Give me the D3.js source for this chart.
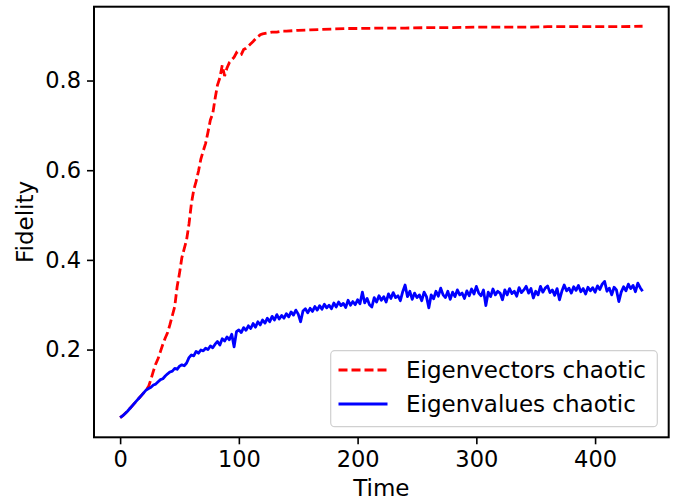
<!DOCTYPE html>
<html>
<head>
<meta charset="utf-8">
<script src="https://cdnjs.cloudflare.com/ajax/libs/d3/7.8.5/d3.min.js"></script>
<style>
  body { margin: 0; background: #fff; }
  text { font-family: "DejaVu Sans", sans-serif; fill: #000; }
</style>
</head>
<body>
<div id="chart"></div>
<script>
const width = 676, height = 500;

// blue series, sampled every 2 time units from 0 to 440
const blueStep = 2;
const blueFidelity = [
  0.048,0.052,0.057,0.062,0.068,0.074,0.080,0.086,0.092,0.098,
  0.104,0.110,0.113,0.116,0.121,0.123,0.128,0.133,0.135,0.141,
  0.146,0.150,0.152,0.158,0.156,0.163,0.166,0.164,0.170,0.182,
  0.188,0.186,0.196,0.192,0.199,0.197,0.203,0.200,0.208,0.204,
  0.212,0.218,0.210,0.224,0.219,0.228,0.222,0.234,0.206,0.240,
  0.244,0.238,0.249,0.243,0.253,0.247,0.258,0.250,0.262,0.255,
  0.266,0.259,0.270,0.262,0.274,0.266,0.278,0.268,0.276,0.270,
  0.280,0.273,0.284,0.277,0.288,0.279,0.262,0.286,0.291,0.282,
  0.292,0.285,0.296,0.288,0.298,0.290,0.301,0.293,0.299,0.291,
  0.304,0.295,0.306,0.298,0.303,0.294,0.310,0.299,0.307,0.300,
  0.311,0.302,0.328,0.304,0.314,0.300,0.295,0.316,0.306,0.320,
  0.310,0.318,0.306,0.324,0.314,0.327,0.316,0.320,0.309,0.329,
  0.344,0.318,0.330,0.312,0.326,0.316,0.322,0.309,0.328,0.318,
  0.293,0.322,0.313,0.330,0.319,0.337,0.322,0.316,0.330,0.312,
  0.328,0.318,0.333,0.322,0.326,0.314,0.331,0.320,0.335,0.324,
  0.341,0.326,0.320,0.333,0.298,0.328,0.318,0.335,0.322,0.330,
  0.326,0.311,0.333,0.322,0.336,0.325,0.330,0.319,0.338,0.327,
  0.333,0.341,0.326,0.336,0.315,0.330,0.322,0.341,0.328,0.337,
  0.342,0.327,0.333,0.321,0.336,0.311,0.330,0.344,0.331,0.337,
  0.326,0.340,0.332,0.343,0.329,0.336,0.324,0.339,0.331,0.338,
  0.328,0.342,0.334,0.346,0.352,0.330,0.337,0.322,0.339,0.333,
  0.307,0.328,0.340,0.331,0.346,0.336,0.343,0.329,0.348,0.338,
  0.330
];
const blueTime = blueFidelity.map((v, i) => i * blueStep);

// red series
const redTime = [
  0,2,4,6,8,10,12,14,16,18,20,22,24,26,28,30,32,34,36,38,
  40,42,44,46,48,50,52,54,56,58,60,62,64,66,68,70,72,74,76,78,
  80,82,84,86,88,90,92,94,96,98,100,102,104,106,108,110,112,114,116,118,
  120,124,128,132,136,140,150,160,170,180,190,200,220,240,260,280,300,
  320,340,360,380,400,420,440
];
const redFidelity = [
  0.048,0.052,0.057,0.062,0.068,0.074,0.080,0.086,0.092,0.098,0.104,0.110,0.118,0.134,0.152,0.168,0.180,0.196,0.212,0.226,
  0.238,0.256,0.276,0.296,0.340,0.370,0.405,0.425,0.445,0.480,0.525,0.556,0.575,0.598,0.625,0.643,0.660,0.685,0.712,0.726,
  0.760,0.790,0.806,0.834,0.810,0.828,0.840,0.846,0.852,0.862,0.856,0.858,0.869,0.872,0.877,0.882,0.887,0.893,0.898,0.902,
  0.904,0.906,0.908,0.908,0.910,0.910,0.912,0.913,0.914,0.915,0.916,0.916,0.917,0.917,0.918,0.918,0.919,
  0.919,0.919,0.920,0.920,0.920,0.920,0.921
];

const xTicks = [0, 100, 200, 300, 400];
const yTicks = [0.2, 0.4, 0.6, 0.8];
const legendLabels = ['Eigenvectors chaotic', 'Eigenvalues chaotic'];

const plot = {left: 94, right: 668.7, top: 6.7, bottom: 437.3};

const svg = d3.select('#chart').append('svg')
  .attr('width', width)
  .attr('height', height);

const tMax = d3.max(blueTime);
const x = d3.scaleLinear()
  .domain([-0.05 * tMax, 1.05 * tMax])
  .range([plot.left, plot.right]);

const yMin = d3.min(blueFidelity.concat(redFidelity));
const yMax = d3.max(blueFidelity.concat(redFidelity));
const pad = (yMax - yMin) * 0.05;
const y = d3.scaleLinear()
  .domain([yMin - pad, yMax + pad])
  .range([plot.bottom, plot.top]);

const line = d3.line()
  .x(d => x(d[0]))
  .y(d => y(d[1]));

svg.append('clipPath').attr('id', 'clip')
  .append('rect')
  .attr('x', plot.left).attr('y', plot.top)
  .attr('width', plot.right - plot.left)
  .attr('height', plot.bottom - plot.top);

const g = svg.append('g').attr('clip-path', 'url(#clip)');

g.append('path')
  .datum(d3.zip(redTime, redFidelity))
  .attr('fill', 'none')
  .attr('stroke', '#ff0000')
  .attr('stroke-width', 2.8)
  .attr('stroke-dasharray', '9,4')
  .attr('d', line);

g.append('path')
  .datum(d3.zip(blueTime, blueFidelity))
  .attr('fill', 'none')
  .attr('stroke', '#0000ff')
  .attr('stroke-width', 2.8)
  .attr('stroke-linejoin', 'round')
  .attr('d', line);

// axes
const xAxis = svg.append('g')
  .attr('transform', `translate(0,${plot.bottom})`)
  .call(d3.axisBottom(x).tickValues(xTicks).tickSize(7).tickPadding(7));
const yAxis = svg.append('g')
  .attr('transform', `translate(${plot.left},0)`)
  .call(d3.axisLeft(y).tickValues(yTicks).tickFormat(d3.format('.1f')).tickSize(7).tickPadding(6));

[xAxis, yAxis].forEach(a => {
  a.select('.domain').remove();
  a.selectAll('.tick line').attr('stroke', '#000').attr('stroke-width', 1.6);
  a.selectAll('.tick text')
    .style('font-family', '"DejaVu Sans", sans-serif')
    .style('font-size', '22.5px')
    .attr('fill', '#000');
});

// frame
svg.append('rect')
  .attr('x', plot.left).attr('y', plot.top)
  .attr('width', plot.right - plot.left)
  .attr('height', plot.bottom - plot.top)
  .attr('fill', 'none')
  .attr('stroke', '#000')
  .attr('stroke-width', 2);

// labels
svg.append('text')
  .attr('x', (plot.left + plot.right) / 2)
  .attr('y', 496)
  .attr('text-anchor', 'middle')
  .style('font-size', '23px')
  .text('Time');

svg.append('text')
  .attr('transform', `translate(33,${(plot.top + plot.bottom) / 2}) rotate(-90)`)
  .attr('text-anchor', 'middle')
  .style('font-size', '23px')
  .text('Fidelity');

// legend
const legend = svg.append('g');
legend.append('rect')
  .attr('x', 330.7).attr('y', 350.7)
  .attr('width', 326.6).attr('height', 76)
  .attr('rx', 4)
  .attr('fill', '#fff').attr('fill-opacity', 0.8)
  .attr('stroke', '#d0d0d0').attr('stroke-width', 1.2);

const legendStyles = [
  {color: '#ff0000', dash: '9,4'},
  {color: '#0000ff', dash: null}
];
legendLabels.forEach((label, i) => {
  const cy = 370 + i * 34;
  legend.append('line')
    .attr('x1', 338.5).attr('x2', 387.5)
    .attr('y1', cy).attr('y2', cy)
    .attr('stroke', legendStyles[i].color)
    .attr('stroke-width', 2.8)
    .attr('stroke-dasharray', legendStyles[i].dash);
  legend.append('text')
    .attr('x', 406)
    .attr('y', cy + 8)
    .style('font-size', '23px')
    .text(label);
});
</script>
</body>
</html>
